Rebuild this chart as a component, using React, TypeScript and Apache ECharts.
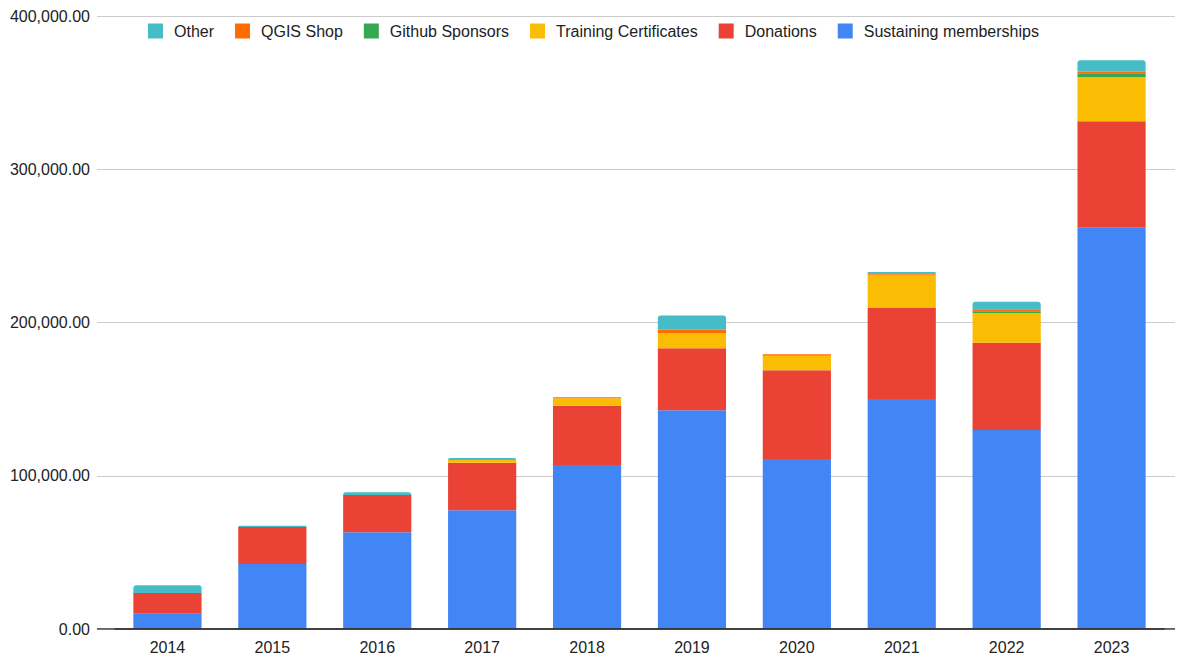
import React, { useEffect, useRef } from "react";
import * as echarts from "echarts";

const years = ["2014", "2015", "2016", "2017", "2018", "2019", "2020", "2021", "2022", "2023"];
const sustaining = [10000, 42400, 63100, 77500, 107000, 142700, 111000, 150100, 129900, 261900];
const donations = [13500, 24200, 24300, 31000, 38700, 40500, 57800, 59400, 56900, 69400];
const training = [0, 0, 0, 1800, 4800, 10000, 9500, 21700, 19400, 28700];
const github = [0, 0, 0, 0, 0, 0, 0, 0, 1100, 2600];
const shop = [0, 0, 0, 0, 700, 2000, 1000, 1000, 1300, 1000];
const other = [5000, 800, 1800, 1300, 0, 9300, 0, 800, 5000, 7600];
const yTicks = { min: 0, max: 400000, interval: 100000 };

const colors: Record<string, string> = {
  "Sustaining memberships": "#4285F4",
  Donations: "#EA4335",
  "Training Certificates": "#FBBC04",
  "Github Sponsors": "#34A853",
  "QGIS Shop": "#FF6D01",
  Other: "#46BDC6",
};

const FONT = "Liberation Sans, Arial, sans-serif";

export default function App() {
  const ref = useRef<HTMLDivElement>(null);
  useEffect(() => {
    if (!ref.current) return;
    const chart = echarts.init(ref.current, undefined, { renderer: "svg" });
    const seriesDefs: [string, number[]][] = [
      ["Sustaining memberships", sustaining],
      ["Donations", donations],
      ["Training Certificates", training],
      ["Github Sponsors", github],
      ["QGIS Shop", shop],
      ["Other", other],
    ];
    const fmt = (v: number) =>
      v.toLocaleString("en-US", { minimumFractionDigits: 2, maximumFractionDigits: 2 });
    chart.setOption({
      animation: false,
      textStyle: { fontFamily: FONT },
      legend: {
        data: ["Other", "QGIS Shop", "Github Sponsors", "Training Certificates", "Donations", "Sustaining memberships"],
        top: 18,
        left: 143,
        itemWidth: 15,
        itemHeight: 15,
        itemGap: 21,
        icon: "rect",
        textStyle: { fontSize: 16, color: "#222", fontFamily: FONT, padding: [0, 0, 0, 6] },
      },
      grid: [
        { left: 97, right: 2, top: 16, bottom: 29, containLabel: false },
        { left: 115, right: 13, top: 16, bottom: 29, containLabel: false },
      ],
      xAxis: [
        {
          type: "value",
          gridIndex: 0,
          min: 0,
          max: 1,
          axisLabel: { show: false },
          axisTick: { show: false },
          splitLine: { show: false },
          axisLine: { show: false },
        },
        {
          type: "category",
          gridIndex: 1,
          data: years,
          axisTick: { show: false },
          axisLine: { lineStyle: { color: "#333", width: 1.5 } },
          axisLabel: { fontSize: 16, color: "#222", margin: 10, fontFamily: FONT },
          z: 5,
        },
      ],
      yAxis: [
        {
          type: "value",
          gridIndex: 0,
          min: yTicks.min,
          max: yTicks.max,
          interval: yTicks.interval,
          axisLine: { show: false },
          axisTick: { show: false },
          splitLine: { lineStyle: { color: "#cccccc", width: 1 } },
          axisLabel: { fontSize: 16, color: "#222", margin: 7, fontFamily: FONT, formatter: (v: number) => fmt(v) },
        },
        {
          type: "value",
          gridIndex: 1,
          min: yTicks.min,
          max: yTicks.max,
          interval: yTicks.interval,
          axisLine: { show: false },
          axisTick: { show: false },
          splitLine: { show: false },
          axisLabel: { show: false },
        },
      ],
      series: [
        {
          type: "line",
          xAxisIndex: 0,
          yAxisIndex: 0,
          data: [[0, 0], [1, 0]],
          symbol: "none",
          lineStyle: { color: "#333", width: 1.5 },
          silent: true,
          z: 10,
        },
        ...seriesDefs.map(([name, data], i) => ({
          name,
          type: "bar",
          stack: "total",
          xAxisIndex: 1,
          yAxisIndex: 1,
          data,
          barCategoryGap: "35%",
          itemStyle: {
            color: colors[name],
            borderRadius: i === seriesDefs.length - 1 ? [3, 3, 0, 0] : 0,
          },
        })),
      ],
    });
    return () => chart.dispose();
  }, []);
  return (
    <div
      ref={ref}
      style={{ position: "fixed", left: 0, top: 0, width: 1177, height: 658, background: "#fff" }}
    />
  );
}
